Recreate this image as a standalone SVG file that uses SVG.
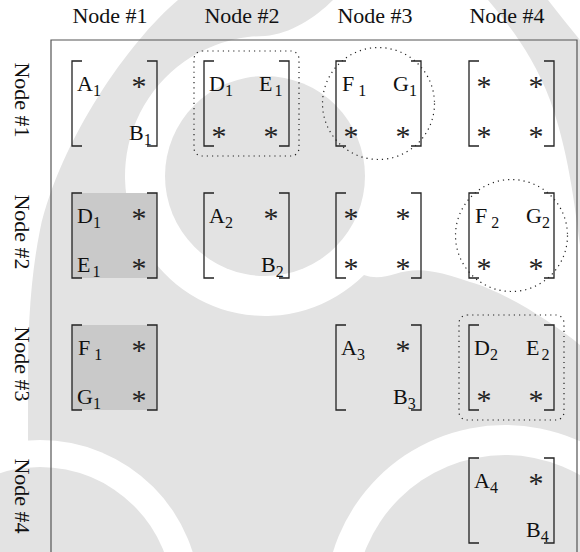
<svg xmlns="http://www.w3.org/2000/svg" width="580" height="552" viewBox="0 0 580 552">
<style>
.wm{fill:#e3e3e3}
.wh{fill:#ffffff}
.t{font-family:"Liberation Serif","Times New Roman",serif;font-size:22px;fill:#111}
.s{font-size:16px}
.a{font-family:"Liberation Serif","Times New Roman",serif;font-size:30px;fill:#222;text-anchor:middle}
.br{fill:none;stroke:#222;stroke-width:1.3}
.sh{fill:#c9c9c9}
.dot{fill:none;stroke:#222;stroke-width:1.2;stroke-dasharray:1.2 4}
.frame{fill:none;stroke:#555;stroke-width:1.2}
.hd{font-family:"Liberation Serif","Times New Roman",serif;font-size:22px;fill:#111;text-anchor:middle}
</style>
<defs>
<path id="brk" class="br" d="M10,0H0V85H10M75,0H85V85H75"/>
</defs>
<rect width="580" height="552" fill="#ffffff"/>
<g id="watermark">
<path class="wm" d="M178,0 C130,40 60,140 40,230 C30,280 28,330 28,380 L28,552 L580,552 L580,345 C550,320 500,290 470,282 C440,272 420,266 395,274 C385,277 375,279 364,275 A140,140 0 1 1 265,36 C290,34 315,18 333,0 Z"/>
<path class="wm" d="M488,0 L548,0 C560,15 570,28 580,40 L580,245 C574,200 568,150 550,100 C535,60 512,28 488,0 Z"/>
<circle class="wm" cx="265" cy="176" r="100"/>
<circle class="wh" cx="40" cy="600" r="160"/>
<circle class="wm" cx="40" cy="600" r="133"/>
<circle class="wh" cx="505" cy="605" r="180"/>
<circle class="wm" cx="505" cy="605" r="150"/>
</g>
<g id="headers">
<text class="hd" x="110" y="23">Node #1</text>
<text class="hd" x="242" y="23">Node #2</text>
<text class="hd" x="375" y="23">Node #3</text>
<text class="hd" x="507" y="23">Node #4</text>
<text class="hd" transform="translate(15,100) rotate(90)">Node #1</text>
<text class="hd" transform="translate(15,232) rotate(90)">Node #2</text>
<text class="hd" transform="translate(15,364) rotate(90)">Node #3</text>
<text class="hd" transform="translate(15,496) rotate(90)">Node #4</text>
</g>
<g id="connectors">
<path class="frame" d="M51,552V40H577V552"/>
</g>
<g id="m11" transform="translate(72,61)">
<use href="#brk"/>
<text class="t" x="5" y="30">A<tspan class="s" dy="5">1</tspan></text>
<text class="a" x="67" y="35">*</text>
<text class="t" x="57" y="79">B<tspan class="s" dy="5">1</tspan></text>
</g>
<g id="m12" transform="translate(204,61)">
<rect class="dot" x="-10" y="-10" width="105" height="105" rx="8"/>
<use href="#brk"/>
<text class="t" x="5" y="30">D<tspan class="s" dy="5">1</tspan></text>
<text class="t" x="55" y="30">E<tspan class="s" dx="2" dy="5">1</tspan></text>
<text class="a" x="15" y="85">*</text>
<text class="a" x="67" y="85">*</text>
</g>
<g id="m13" transform="translate(336,61)">
<circle class="dot" cx="42.5" cy="42.5" r="56"/>
<use href="#brk"/>
<text class="t" x="6" y="30">F<tspan class="s" dx="4" dy="5">1</tspan></text>
<text class="t" x="57" y="30">G<tspan class="s" dy="5">1</tspan></text>
<text class="a" x="15" y="85">*</text>
<text class="a" x="67" y="85">*</text>
</g>
<g id="m14" transform="translate(469,61)">
<use href="#brk"/>
<text class="a" x="15" y="35">*</text>
<text class="a" x="67" y="35">*</text>
<text class="a" x="15" y="85">*</text>
<text class="a" x="67" y="85">*</text>
</g>
<g id="m21" transform="translate(72,193)">
<rect class="sh" width="85" height="85"/>
<use href="#brk"/>
<text class="t" x="5" y="30">D<tspan class="s" dy="5">1</tspan></text>
<text class="a" x="67" y="35">*</text>
<text class="t" x="5" y="79">E<tspan class="s" dx="2" dy="5">1</tspan></text>
<text class="a" x="67" y="85">*</text>
</g>
<g id="m22" transform="translate(204,193)">
<use href="#brk"/>
<text class="t" x="5" y="30">A<tspan class="s" dy="5">2</tspan></text>
<text class="a" x="67" y="35">*</text>
<text class="t" x="57" y="79">B<tspan class="s" dy="5">2</tspan></text>
</g>
<g id="m23" transform="translate(336,193)">
<use href="#brk"/>
<text class="a" x="15" y="35">*</text>
<text class="a" x="67" y="35">*</text>
<text class="a" x="15" y="85">*</text>
<text class="a" x="67" y="85">*</text>
</g>
<g id="m24" transform="translate(469,193)">
<circle class="dot" cx="42.5" cy="42.5" r="56"/>
<use href="#brk"/>
<text class="t" x="6" y="30">F<tspan class="s" dx="4" dy="5">2</tspan></text>
<text class="t" x="57" y="30">G<tspan class="s" dy="5">2</tspan></text>
<text class="a" x="15" y="85">*</text>
<text class="a" x="67" y="85">*</text>
</g>
<g id="m31" transform="translate(72,325)">
<rect class="sh" width="85" height="85"/>
<use href="#brk"/>
<text class="t" x="6" y="30">F<tspan class="s" dx="4" dy="5">1</tspan></text>
<text class="a" x="67" y="35">*</text>
<text class="t" x="5" y="79">G<tspan class="s" dy="5">1</tspan></text>
<text class="a" x="67" y="85">*</text>
</g>
<g id="m33" transform="translate(336,325)">
<use href="#brk"/>
<text class="t" x="5" y="30">A<tspan class="s" dy="5">3</tspan></text>
<text class="a" x="67" y="35">*</text>
<text class="t" x="57" y="79">B<tspan class="s" dy="5">3</tspan></text>
</g>
<g id="m34" transform="translate(469,325)">
<rect class="dot" x="-10" y="-10" width="105" height="105" rx="8"/>
<use href="#brk"/>
<text class="t" x="5" y="30">D<tspan class="s" dy="5">2</tspan></text>
<text class="t" x="57" y="30">E<tspan class="s" dx="2" dy="5">2</tspan></text>
<text class="a" x="15" y="85">*</text>
<text class="a" x="67" y="85">*</text>
</g>
<g id="m44" transform="translate(469,458)">
<use href="#brk"/>
<text class="t" x="5" y="30">A<tspan class="s" dy="5">4</tspan></text>
<text class="a" x="67" y="35">*</text>
<text class="t" x="57" y="79">B<tspan class="s" dy="5">4</tspan></text>
</g>
</svg>
